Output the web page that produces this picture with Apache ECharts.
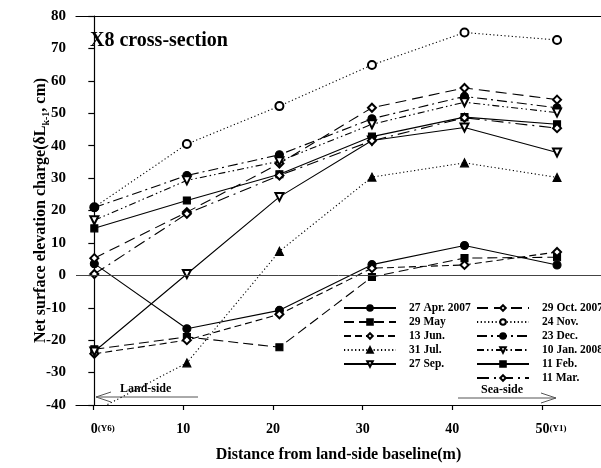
<!DOCTYPE html>
<html><head><meta charset="utf-8">
<script src="https://cdn.jsdelivr.net/npm/echarts@6/dist/echarts.min.js"></script>
<style>html,body{margin:0;padding:0;background:#fff}#c{width:601px;height:468px}</style>
</head><body><div id="c"></div>
<script>
// ---- data ----
const distances = [0, 10, 20, 30, 40, 50];
const xTickValues = [0, 10, 20, 30, 40, 50];
const xTickMain = ['0', '10', '20', '30', '40', '50'];
const xTickSuffix = ['(Y6)', '', '', '', '', '(Y1)'];
const yTickMin = -40, yTickMax = 80, yTickStep = 10;

const apr27 = [3.6, -16.5, -10.8, 3.3, 9.2, 3.2];
const may29 = [-22.8, -19.0, -22.2, -0.5, 5.3, 5.6];
const jun13 = [-24.2, -20.0, -12.0, 2.2, 3.2, 7.2];
const jul31 = [-42.0, -27.0, 7.4, 30.3, 34.7, 30.2];
const sep27 = [-23.5, 0.4, 24.2, 41.6, 45.6, 37.9];
const oct29 = [5.3, 19.5, 34.5, 51.7, 57.8, 54.2];
const nov24 = [21.0, 40.5, 52.2, 64.9, 74.9, 72.6];
const dec23 = [20.9, 30.8, 37.2, 48.3, 55.2, 51.7];
const jan10 = [17.0, 29.3, 35.2, 46.6, 53.4, 50.2];
const feb11 = [14.5, 23.1, 31.2, 42.8, 48.8, 46.6];
const mar11 = [0.4, 19.0, 30.8, 41.5, 48.6, 45.4];

const names = ['27 Apr. 2007', '29 May', '13 Jun.', '31 Jul.', '27 Sep.',
               '29 Oct. 2007', '24 Nov.', '23 Dec.', '10 Jan. 2008', '11 Feb.', '11 Mar.'];
const values = [apr27, may29, jun13, jul31, sep27, oct29, nov24, dec23, jan10, feb11, mar11];

// ---- styles ----
const styles = [
  {symbol: 'circle', rot: 0, dash: 'solid'},
  {symbol: 'rect', rot: 0, dash: [10, 5]},
  {symbol: 'emptyDiamond', rot: 0, dash: [7, 4]},
  {symbol: 'triangle', rot: 0, dash: [1.2, 2.5]},
  {symbol: 'emptyTriangle', rot: 180, dash: 'solid'},
  {symbol: 'emptyDiamond', rot: 0, dash: [11, 6]},
  {symbol: 'emptyCircle', rot: 0, dash: [1.2, 2.5]},
  {symbol: 'circle', rot: 0, dash: [10, 4, 2, 4]},
  {symbol: 'emptyTriangle', rot: 180, dash: [7, 3, 1.5, 3, 1.5, 3]},
  {symbol: 'rect', rot: 0, dash: 'solid'},
  {symbol: 'emptyDiamond', rot: 0, dash: [12, 5, 2, 5]}
];

const serif = 'Liberation Serif';
const series = names.map((n, i) => {
  const s = {
    name: n, type: 'line', xAxisIndex: 0, yAxisIndex: 0,
    data: distances.map((d, j) => [d, values[i][j]]),
    symbol: styles[i].symbol, symbolRotate: styles[i].rot,
    symbolSize: styles[i].symbol === 'rect' ? 7 : 8,
    showAllSymbol: true, clip: true,
    lineStyle: {color: '#000', width: 1.1, type: styles[i].dash},
    itemStyle: {color: '#000', borderColor: '#000', borderWidth: 1.1},
    emphasis: {disabled: true}, animation: false, z: 3
  };
  if (i === 0) {
    s.markLine = {
      silent: true, symbol: ['none', 'none'], label: {show: false},
      lineStyle: {color: '#444', width: 1, type: 'solid'},
      data: [{yAxis: 0}], animation: false
    };
  }
  return s;
});

const legendCommon = {
  orient: 'vertical', itemWidth: 52, itemHeight: 7, itemGap: 0, padding: 0,
  selectedMode: false,
  formatter: function (n) { return '{p|}' + n; },
  textStyle: {fontFamily: serif, fontWeight: 'bold', fontSize: 11.5, color: '#000',
              lineHeight: 14, rich: {p: {width: 8}}}
};

const chart = echarts.init(document.getElementById('c'), null, {renderer: 'canvas'});
chart.setOption({
  animation: false,
  backgroundColor: '#fff',
  title: {
    text: 'X8 cross-section', left: 90, top: 31, padding: 0,
    textStyle: {fontFamily: serif, fontWeight: 'bold', fontSize: 20, color: '#000'}
  },
  grid: {left: 76, right: 0, top: 16, bottom: 59, containLabel: false},
  legend: [
    Object.assign({}, legendCommon, {left: 343, top: 301, data: names.slice(0, 5)}),
    Object.assign({}, legendCommon, {left: 476, top: 301, data: names.slice(5)})
  ],
  xAxis: [
    {type: 'value', min: -1.98, max: 54.75, position: 'bottom',
     axisLine: {show: false}, axisTick: {show: false}, axisLabel: {show: false}, splitLine: {show: false}},
    {type: 'value', min: -1.97, max: 56.58, position: 'bottom',
     axisLine: {show: true, lineStyle: {color: '#000', width: 1.2}},
     axisTick: {show: true, inside: false, length: 5, customValues: xTickValues, lineStyle: {color: '#000', width: 1.2}},
     axisLabel: {show: true, margin: 17, customValues: xTickValues,
       formatter: function (v) {
         const k = xTickValues.indexOf(v);
         if (k < 0) return '';
         return xTickSuffix[k] ? '{p|}{a|' + xTickMain[k] + '}{b|' + xTickSuffix[k] + '}' : '{a|' + xTickMain[k] + '}';
       },
       rich: {
         a: {fontFamily: serif, fontWeight: 'bold', fontSize: 14, color: '#000'},
         b: {fontFamily: serif, fontWeight: 'bold', fontSize: 9, color: '#000'},
         p: {width: 18}
       }},
     splitLine: {show: false},
     name: 'Distance from land-side baseline(m)', nameLocation: 'middle', nameGap: 42, nameMoveOverlap: false,
     nameTextStyle: {fontFamily: serif, fontWeight: 'bold', fontSize: 16, color: '#000'}},
    {type: 'value', min: 0, max: 1, position: 'top',
     axisLine: {show: true, lineStyle: {color: '#000', width: 1.2}},
     axisTick: {show: false}, axisLabel: {show: false}, splitLine: {show: false}}
  ],
  yAxis: {
    type: 'value', min: yTickMin, max: yTickMax, interval: yTickStep,
    axisLine: {show: true, lineStyle: {color: '#000', width: 1.2}},
    axisTick: {show: true, inside: false, length: 6, lineStyle: {color: '#000', width: 1.2}},
    axisLabel: {fontFamily: serif, fontWeight: 'bold', fontSize: 15, color: '#000', margin: 10},
    splitLine: {show: false},
    name: 'Net surface elevation charge(δL{s|k-1}, cm)', nameLocation: 'middle', nameGap: 25, nameMoveOverlap: false,
    nameTextStyle: {fontFamily: serif, fontWeight: 'bold', fontSize: 16, color: '#000',
      rich: {s: {fontFamily: serif, fontWeight: 'bold', fontSize: 10, color: '#000', verticalAlign: 'bottom', padding: [10, 0, 0, 0]}}}
  },
  graphic: [
    {type: 'text', left: 120, top: 383, style: {text: 'Land-side', fontFamily: serif, fontWeight: 'bold', fontSize: 12, fill: '#000'}},
    {type: 'polyline', shape: {points: [[96, 397], [198, 397]]}, style: {stroke: '#555', lineWidth: 1}},
    {type: 'polyline', shape: {points: [[111, 392], [96, 397], [111, 402]]}, style: {stroke: '#555', lineWidth: 1, fill: null}},
    {type: 'text', left: 481, top: 384, style: {text: 'Sea-side', fontFamily: serif, fontWeight: 'bold', fontSize: 12, fill: '#000'}},
    {type: 'polyline', shape: {points: [[458, 398], [556, 398]]}, style: {stroke: '#555', lineWidth: 1}},
    {type: 'polyline', shape: {points: [[541, 393], [556, 398], [541, 403]]}, style: {stroke: '#555', lineWidth: 1, fill: null}}
  ],
  series: series
});
</script>
</body></html>
